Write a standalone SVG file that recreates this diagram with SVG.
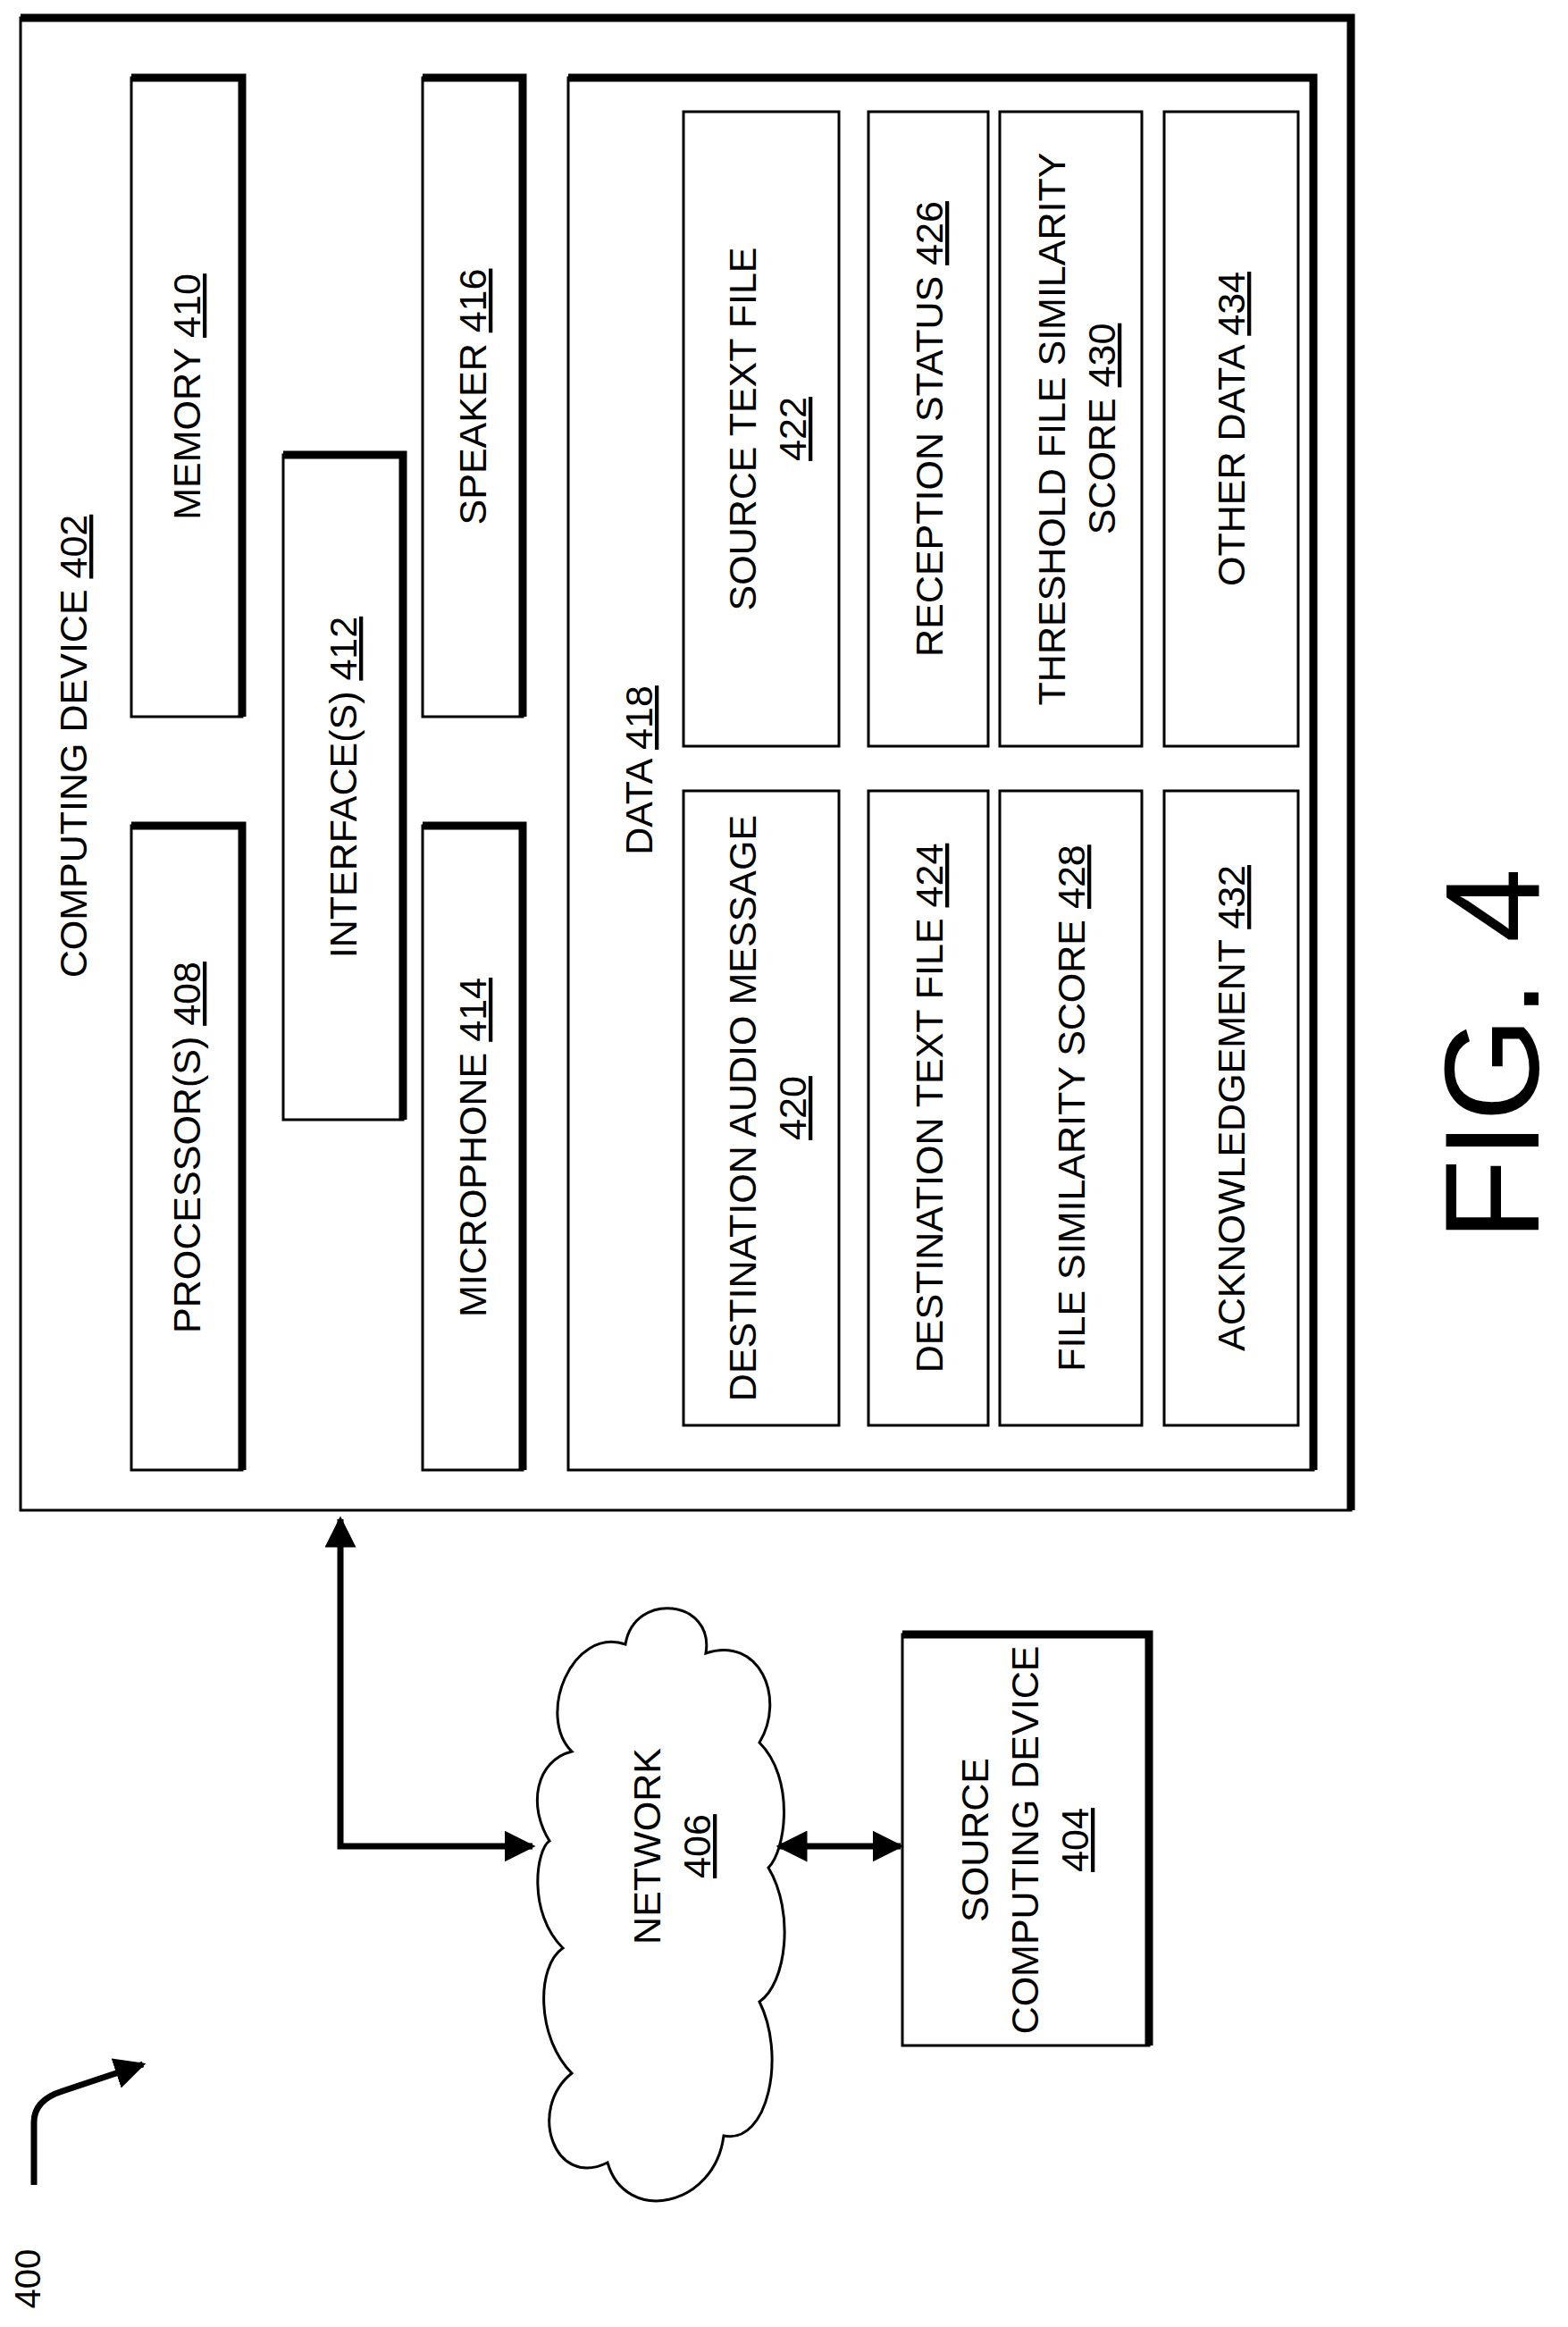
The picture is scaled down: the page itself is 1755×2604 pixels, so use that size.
<svg xmlns="http://www.w3.org/2000/svg" width="1755" height="2604" viewBox="0 0 1755 2604">
<style>
.b{fill:#fff;stroke:#000;stroke-width:3}
.sh{fill:none;stroke:#000;stroke-width:9}
.t{font-family:"Liberation Sans",Arial,sans-serif;font-size:43px;fill:#000;text-anchor:middle}
.u{text-decoration:underline}
.c{fill:none;stroke:#000;stroke-width:7}
</style>
<defs>
<marker id="ah" viewBox="0 0 10 10" refX="9" refY="5" markerWidth="5" markerHeight="5" orient="auto-start-reverse"><path d="M0,0 L10,5 L0,10 z" fill="#000"/></marker>
</defs>
<rect width="1755" height="2604" fill="#fff"/>
<g id="computing-device">
<rect class="b" x="23" y="20" width="1489" height="1670"/>
<path class="sh" d="M23,20 H1512 V1690"/>
<text class="t" transform="translate(97,835) rotate(-90)">COMPUTING DEVICE <tspan class="u">402</tspan></text>
</g>
<g id="processor"><rect class="b" x="147" y="924" width="124" height="721"/><path class="sh" d="M147,924 H271 V1645"/>
<text class="t" transform="translate(224,1284) rotate(-90)">PROCESSOR(S) <tspan class="u">408</tspan></text></g>
<g id="memory"><rect class="b" x="147" y="87" width="124" height="715"/><path class="sh" d="M147,87 H271 V802"/>
<text class="t" transform="translate(224,444) rotate(-90)">MEMORY <tspan class="u">410</tspan></text></g>
<g id="interface"><rect class="b" x="317" y="509" width="134" height="744"/><path class="sh" d="M317,509 H451 V1253"/>
<text class="t" transform="translate(399,881) rotate(-90)">INTERFACE(S) <tspan class="u">412</tspan></text></g>
<g id="microphone"><rect class="b" x="473" y="924" width="112" height="721"/><path class="sh" d="M473,924 H585 V1645"/>
<text class="t" transform="translate(544,1284) rotate(-90)">MICROPHONE <tspan class="u">414</tspan></text></g>
<g id="speaker"><rect class="b" x="473" y="87" width="112" height="715"/><path class="sh" d="M473,87 H585 V802"/>
<text class="t" transform="translate(544,444) rotate(-90)">SPEAKER <tspan class="u">416</tspan></text></g>
<g id="data"><rect class="b" x="636" y="87" width="834" height="1558"/><path class="sh" d="M636,87 H1470 V1645"/>
<text class="t" transform="translate(730,862) rotate(-90)">DATA <tspan class="u">418</tspan></text></g>
<g id="dest-audio"><rect class="b" x="765" y="885" width="174" height="710"/>
<text class="t" transform="translate(852,1240) rotate(-90)"><tspan x="0" dy="-6">DESTINATION AUDIO MESSAGE</tspan><tspan x="0" dy="56" class="u">420</tspan></text></g>
<g id="source-text"><rect class="b" x="765" y="125" width="174" height="710"/>
<text class="t" transform="translate(852,480) rotate(-90)"><tspan x="0" dy="-6">SOURCE TEXT FILE</tspan><tspan x="0" dy="56" class="u">422</tspan></text></g>
<g id="dest-text"><rect class="b" x="972" y="885" width="134" height="710"/>
<text class="t" transform="translate(1055,1240) rotate(-90)">DESTINATION TEXT FILE <tspan class="u">424</tspan></text></g>
<g id="reception"><rect class="b" x="972" y="125" width="134" height="710"/>
<text class="t" transform="translate(1055,480) rotate(-90)">RECEPTION STATUS <tspan class="u">426</tspan></text></g>
<g id="file-sim"><rect class="b" x="1119" y="885" width="159" height="710"/>
<text class="t" transform="translate(1214,1240) rotate(-90)">FILE SIMILARITY SCORE <tspan class="u">428</tspan></text></g>
<g id="threshold"><rect class="b" x="1119" y="125" width="159" height="710"/>
<text class="t" transform="translate(1198,480) rotate(-90)"><tspan x="0" dy="-6">THRESHOLD FILE SIMILARITY</tspan><tspan x="0" dy="56">SCORE <tspan class="u">430</tspan></tspan></text></g>
<g id="ack"><rect class="b" x="1303" y="885" width="150" height="710"/>
<text class="t" transform="translate(1393,1240) rotate(-90)">ACKNOWLEDGEMENT <tspan class="u">432</tspan></text></g>
<g id="other"><rect class="b" x="1303" y="125" width="150" height="710"/>
<text class="t" transform="translate(1393,480) rotate(-90)">OTHER DATA <tspan class="u">434</tspan></text></g>
<g id="network">
<path class="b" d="M640,1960 C600,1920 640,1820 700,1840 C710,1780 800,1790 790,1850 C850,1830 880,1900 850,1950 C890,1990 880,2070 860,2090 C890,2140 880,2220 850,2240 C880,2300 860,2400 810,2390 C800,2470 700,2490 680,2420 C620,2450 590,2360 640,2320 C600,2280 600,2200 630,2180 C590,2140 600,2070 615,2060 C590,2020 600,1970 640,1960 Z"/>
<text class="t" transform="translate(745,2066) rotate(-90)"><tspan x="0" dy="-6">NETWORK</tspan><tspan x="0" dy="56" class="u">406</tspan></text>
</g>
<g id="source-device">
<rect class="b" x="1010" y="1829" width="276" height="460"/><path class="sh" d="M1010,1829 H1286 V2289"/>
<text class="t" transform="translate(1146,2059) rotate(-90)"><tspan x="0" dy="-40">SOURCE</tspan><tspan x="0" dy="56">COMPUTING DEVICE</tspan><tspan x="0" dy="56" class="u">404</tspan></text>
</g>
<g id="connectors">
<path class="c" d="M381,1700 V2066 H596" marker-start="url(#ah)" marker-end="url(#ah)"/>
<path class="c" d="M872,2066 H1008" marker-start="url(#ah)" marker-end="url(#ah)"/>
<path class="c" d="M38,2445 V2375 Q38,2350 70,2340 L160,2310" marker-end="url(#ah)"/>
</g>
<text class="t" style="font-size:40px" transform="translate(45,2550) rotate(-90)">400</text>
<text class="t" style="font-size:150px" transform="translate(1722,1180) rotate(-90)">FIG. 4</text>
</svg>
